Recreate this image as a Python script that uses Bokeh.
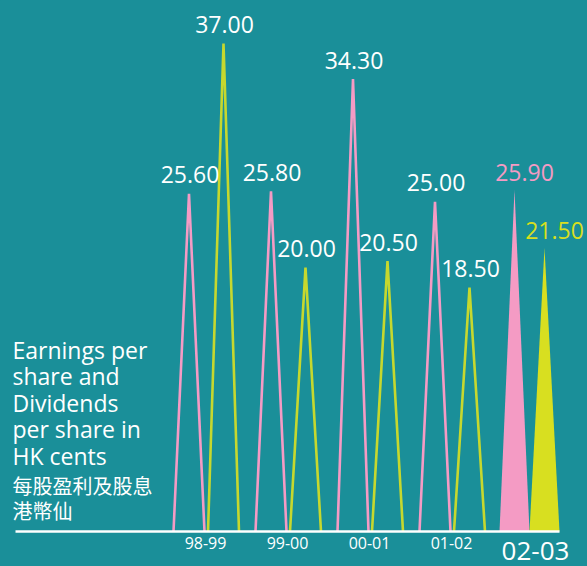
from bokeh.plotting import figure
from bokeh.models import Range1d, Label, ColumnDataSource, GlobalInlineStyleSheet
from bokeh.core.properties import value
from bokeh.embed import file_html
from bokeh.resources import INLINE

# ---- data ----
categories = ["98-99", "99-00", "00-01", "01-02", "02-03"]
eps = [25.60, 25.80, 34.30, 25.00, 25.90]        # pink: earnings per share
dps = [37.00, 20.00, 20.50, 18.50, 21.50]        # yellow: dividends per share
title_lines = ["Earnings per", "share and", "Dividends", "per share in", "HK cents"]
title_cjk = ["每股盈利及股息", "港幣仙"]

BG = "#1a8f99"
PINK = "#f49bc4"
YELLOW_LINE = "#c6d82e"
YELLOW_FILL = "#d8df20"
FONT = "Open Sans"

W, H = 587, 566
PX = 82.0           # pixels per category
C0 = 206.0          # pixel position of first category
PY = 13.19          # pixels per HK cent
BASE = 531.0        # baseline pixel (from top)

p = figure(width=W, height=H, output_backend="svg", toolbar_location=None,
           x_range=Range1d(-C0 / PX, (W - C0) / PX),
           y_range=Range1d(-(H - BASE) / PY, BASE / PY),
           min_border=0, outline_line_color=None,
           background_fill_color=BG, border_fill_color=BG)
p.axis.visible = False
p.grid.visible = False
p.stylesheets = [GlobalInlineStyleSheet(css=f"html,body{{margin:0;padding:0;background:{BG};overflow:hidden}}")]

n_hist = len(categories) - 1
hw = 15.5 / PX
off_p, off_y = -17.5 / PX, 17.0 / PX

# outlined spikes for historic years
def spike(cx, v, half):
    return [cx - half, cx, cx + half], [0, v, 0]

xs_p, ys_p, xs_y, ys_y = [], [], [], []
for i in range(n_hist):
    a, b = spike(i + off_p, eps[i], hw); xs_p.append(a); ys_p.append(b)
    a, b = spike(i + off_y, dps[i], hw); xs_y.append(a); ys_y.append(b)
p.multi_line(xs_p, ys_p, line_color=PINK, line_width=2.6)
p.multi_line(xs_y, ys_y, line_color=YELLOW_LINE, line_width=2.6)

# filled spikes for the current year
i = n_hist
fhw = 15.0 / PX
fp, fy = -20.0 / PX, 10.0 / PX
a, b = spike(i + fp, eps[i], fhw)
p.patch(a, b, fill_color=PINK, line_color=None)
a, b = spike(i + fy, dps[i], fhw)
p.patch(a, b, fill_color=YELLOW_FILL, line_color=None)

# baseline
p.line([-C0 / PX + 15 / PX, n_hist + 25 / PX], [0, 0], line_color="white", line_width=2.5)

# value labels (historic)
src = ColumnDataSource(dict(
    x=[k + off_p for k in range(n_hist)] + [k + off_y for k in range(n_hist)],
    y=eps[:n_hist] + dps[:n_hist],
    t=["%.2f" % v for v in eps[:n_hist] + dps[:n_hist]]))
p.text("x", "y", text="t", source=src, text_align="center", text_baseline="alphabetic",
       x_offset=1, y_offset=-19, text_color="white", text_font=value(FONT), text_font_size="23px")

# value labels (current year)
p.text([i + fp], [eps[i]], text=["%.2f" % eps[i]], text_align="center", text_baseline="alphabetic",
       x_offset=10, y_offset=-17, text_color=PINK, text_font=value(FONT), text_font_size="23px")
p.text([i + fy], [dps[i]], text=["%.2f" % dps[i]], text_align="center", text_baseline="alphabetic",
       x_offset=10, y_offset=-17, text_color=YELLOW_FILL, text_font=value(FONT), text_font_size="23px")

# category labels
p.text(list(range(n_hist)), [0] * n_hist, text=categories[:n_hist], text_align="center",
       text_baseline="alphabetic", x_offset=-1, y_offset=11, text_color="white",
       text_font=value(FONT), text_font_size="16px")
p.text([i], [0], text=[categories[i]], text_align="center", text_baseline="alphabetic",
       x_offset=1, y_offset=19, text_color="white", text_font=value(FONT), text_font_size="26px")

# title block
for k, t in enumerate(title_lines):
    p.add_layout(Label(x=12, y=H - (349 + 26.5 * k), x_units="screen", y_units="screen",
                       text=t, text_color="white", text_font=FONT, text_font_size="23px",
                       text_baseline="alphabetic"))
for k, t in enumerate(title_cjk):
    p.add_layout(Label(x=12, y=H - (485 + 25 * k), x_units="screen", y_units="screen",
                       text=t, text_color="white", text_font="Noto Sans CJK TC", text_font_size="20px",
                       text_baseline="alphabetic"))

open("out.html", "w").write(file_html(p, INLINE))
